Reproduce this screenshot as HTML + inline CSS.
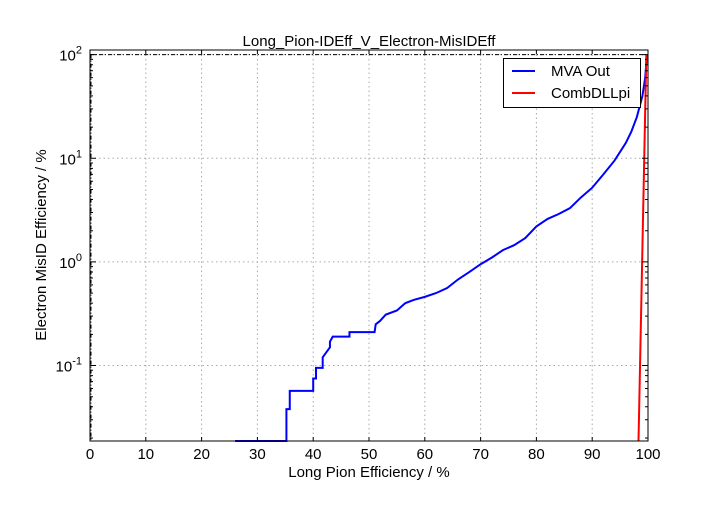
<!DOCTYPE html>
<html><head><meta charset="utf-8"><style>
body{margin:0;background:#fff;}
svg text{font-family:"Liberation Sans",sans-serif;fill:#000;}
</style></head><body>
<svg id="chart" width="720" height="504">
<rect width="720" height="504" fill="#fff"/>
<g id="grid"></g>
<g id="series"></g>
<g id="axes"></g>
<text x="369" y="46" font-size="15" text-anchor="middle">Long_Pion-IDEff_V_Electron-MisIDEff</text>
<text x="369" y="477" font-size="15" text-anchor="middle">Long Pion Efficiency / %</text>
<text transform="translate(46,245) rotate(-90)" font-size="15" text-anchor="middle">Electron MisID Efficiency / %</text>
<g>
<rect x="503.5" y="58.5" width="137" height="49" fill="#fff" stroke="#000"/>
<line x1="512" y1="71" x2="535" y2="71" stroke="#0000ff" stroke-width="2"/>
<text x="551" y="76" font-size="15">MVA Out</text>
<line x1="512" y1="93" x2="535" y2="93" stroke="#ff0000" stroke-width="2"/>
<text x="551" y="98" font-size="15">CombDLLpi</text>
</g>
</svg>
<script>
const xTicks=[0,10,20,30,40,50,60,70,80,90,100];
const yTickExp=[-1,0,1,2];
const mvaX=[26,35.2,35.2,35.8,35.8,40,40,40.5,40.5,41.7,41.7,43,43,43.5,44.5,46.5,46.5,51,51.2,52,53,55,56.5,58,60,62,64,66,68,70,72,74,76,78,80,82,84,86,88,90,92,94,96,97,98,99,99.5,99.8];
const mvaY=[0.0187,0.0187,0.038,0.038,0.057,0.057,0.075,0.075,0.095,0.095,0.12,0.15,0.17,0.19,0.19,0.19,0.21,0.21,0.25,0.27,0.31,0.34,0.40,0.43,0.46,0.5,0.56,0.68,0.8,0.95,1.1,1.3,1.45,1.7,2.2,2.6,2.9,3.3,4.2,5.2,7,9.5,14,18,25,40,60,100];
const dllX=[98.3,99.7];
const dllY=[0.0187,100];
const L=90,R=648,T=50,B=441;
const yMin=Math.log10(0.0187), yMax=2.045;
const sx=v=>L+(v/100)*(R-L);
const sy=v=>B-(Math.log10(v)-yMin)/(yMax-yMin)*(B-T);
const NS="http://www.w3.org/2000/svg";
function mk(tag,attrs,parent){const e=document.createElementNS(NS,tag);for(const k in attrs)e.setAttribute(k,attrs[k]);parent.appendChild(e);return e;}
const grid=document.getElementById('grid'),axes=document.getElementById('axes'),series=document.getElementById('series');
xTicks.forEach(t=>{
  const x=sx(t);
  if(t>0&&t<100){const g=mk('line',{x1:x,y1:T,x2:x,y2:B,stroke:'#aaa','stroke-dasharray':'1.5,3'},grid);
  
  }
  const tk=mk('path',{d:`M${x},${B}V${B-4}M${x},${T}V${T+4}`,stroke:'#000'},axes);
  
  
  const lb=mk('text',{x:x,y:B+18,'font-size':15,'text-anchor':'middle'},axes);lb.textContent=t;
  
  
});
function minor(yy){const mt=mk('path',{d:`M${L},${yy}H${L+3}M${R},${yy}H${R-3}`,stroke:'#000'},axes);
  
  }
yTickExp.forEach(e=>{
  const y=sy(Math.pow(10,e));
  const g=mk('line',{x1:L,y1:y,x2:R,y2:y,stroke:'#aaa','stroke-dasharray':'1.5,3'},grid);
  
  
  const tk=mk('path',{d:`M${L},${y}H${L+6}M${R},${y}H${R-6}`,stroke:'#000'},axes);
  
  
  const lb=mk('text',{x:L-8,y:y+6,'font-size':15,'text-anchor':'end'},axes);
  lb.innerHTML='10<tspan dy="-7" font-size="11">'+e+'</tspan>';
  
  
  for(let m=2;m<10;m++){const yy=sy(m*Math.pow(10,e));if(yy<T||yy>B)continue;minor(yy);}
});
for(let m=2;m<10;m++){const yy=sy(m*0.01);if(yy<T||yy>B)continue;minor(yy);}
const ref=mk('path',{d:`M${L},${sy(100)}H${R}M${L+1},${sy(100)}V${B}`,stroke:'#000',fill:'none','stroke-dasharray':'4,2,1,2'},series);


const p1=mk('path',{d:mvaX.map((x,i)=>(i?'L':'M')+sx(x).toFixed(2)+','+sy(mvaY[i]).toFixed(2)).join(''),stroke:'#0000ff','stroke-width':2,fill:'none'},series);


const p2=mk('path',{d:dllX.map((x,i)=>(i?'L':'M')+sx(x).toFixed(2)+','+sy(dllY[i]).toFixed(2)).join(''),stroke:'#ff0000','stroke-width':2,fill:'none'},series);


const fr=mk('rect',{x:L,y:T,width:R-L,height:B-T,fill:'none',stroke:'#000'},axes);


</script>
</body></html>
